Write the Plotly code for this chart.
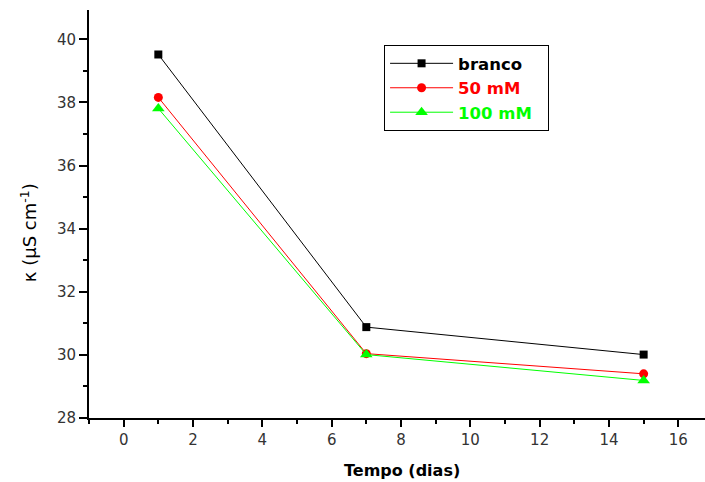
import plotly.graph_objects as go

tempo = [1, 7, 15]
branco = [39.52, 30.88, 30.01]
mm50 = [38.16, 30.04, 29.40]
mm100 = [37.81, 30.01, 29.19]

series = [
    ("branco", branco, "black", "square", 8, ""),
    ("50 mM", mm50, "red", "circle", 9, ""),
    ("100 mM", mm100, "#00ff00", "triangle-up", 11, "&nbsp;&nbsp;"),
]

fig = go.Figure()
for name, ys, col, sym, sz, pad in series:
    fig.add_trace(go.Scatter(
        x=tempo, y=ys, mode="lines+markers",
        name=f"<span style='color:{col}'><b>{name}</b></span>{pad}",
        line=dict(color=col, width=1),
        marker=dict(color=col, symbol=sym, size=sz),
    ))

font = "DejaVu Sans, Arial, sans-serif"
fig.update_layout(
    width=705, height=482,
    margin=dict(l=89, r=0, t=10, b=64),
    paper_bgcolor="white", plot_bgcolor="white",
    font=dict(family=font, size=15, color="#333333"),
    showlegend=True,
    legend=dict(
        x=0.479, y=0.914, xanchor="left", yanchor="top",
        bordercolor="black", borderwidth=1, bgcolor="white",
        font=dict(family=font, size=16.5, color="black"),
        tracegroupgap=0, itemwidth=63,
    ),
    xaxis=dict(
        range=[-1, 16.77], showgrid=False, zeroline=False,
        showline=True, linecolor="black", linewidth=2,
        ticks="outside", tickwidth=2, ticklen=7, tickcolor="black",
        dtick=2, tick0=0,
        minor=dict(ticks="outside", ticklen=4, tickwidth=2, tickcolor="black", dtick=1, tick0=0),
        tickfont=dict(size=15, color="#333333"),
    ),
    yaxis=dict(
        range=[28, 40.93], showgrid=False, zeroline=False,
        showline=True, linecolor="black", linewidth=2,
        ticks="outside", tickwidth=2, ticklen=8, tickcolor="black",
        dtick=2, tick0=28,
        minor=dict(ticks="outside", ticklen=4, tickwidth=2, tickcolor="black", dtick=1, tick0=28),
        tickfont=dict(size=15, color="#333333"),
    ),
    annotations=[
        dict(text="<b>Tempo (dias)</b>", xref="paper", yref="paper",
             x=0.5076, y=-0.1275, xanchor="center", yanchor="middle",
             showarrow=False, font=dict(family=font, size=16, color="black")),
        dict(text="κ (µS cm<sup>-1</sup>)", xref="paper", yref="paper",
             x=-0.0974, y=0.453, xanchor="center", yanchor="middle", textangle=-90,
             showarrow=False, font=dict(family=font, size=18, color="black")),
    ],
)

fig.write_html("out.html")
